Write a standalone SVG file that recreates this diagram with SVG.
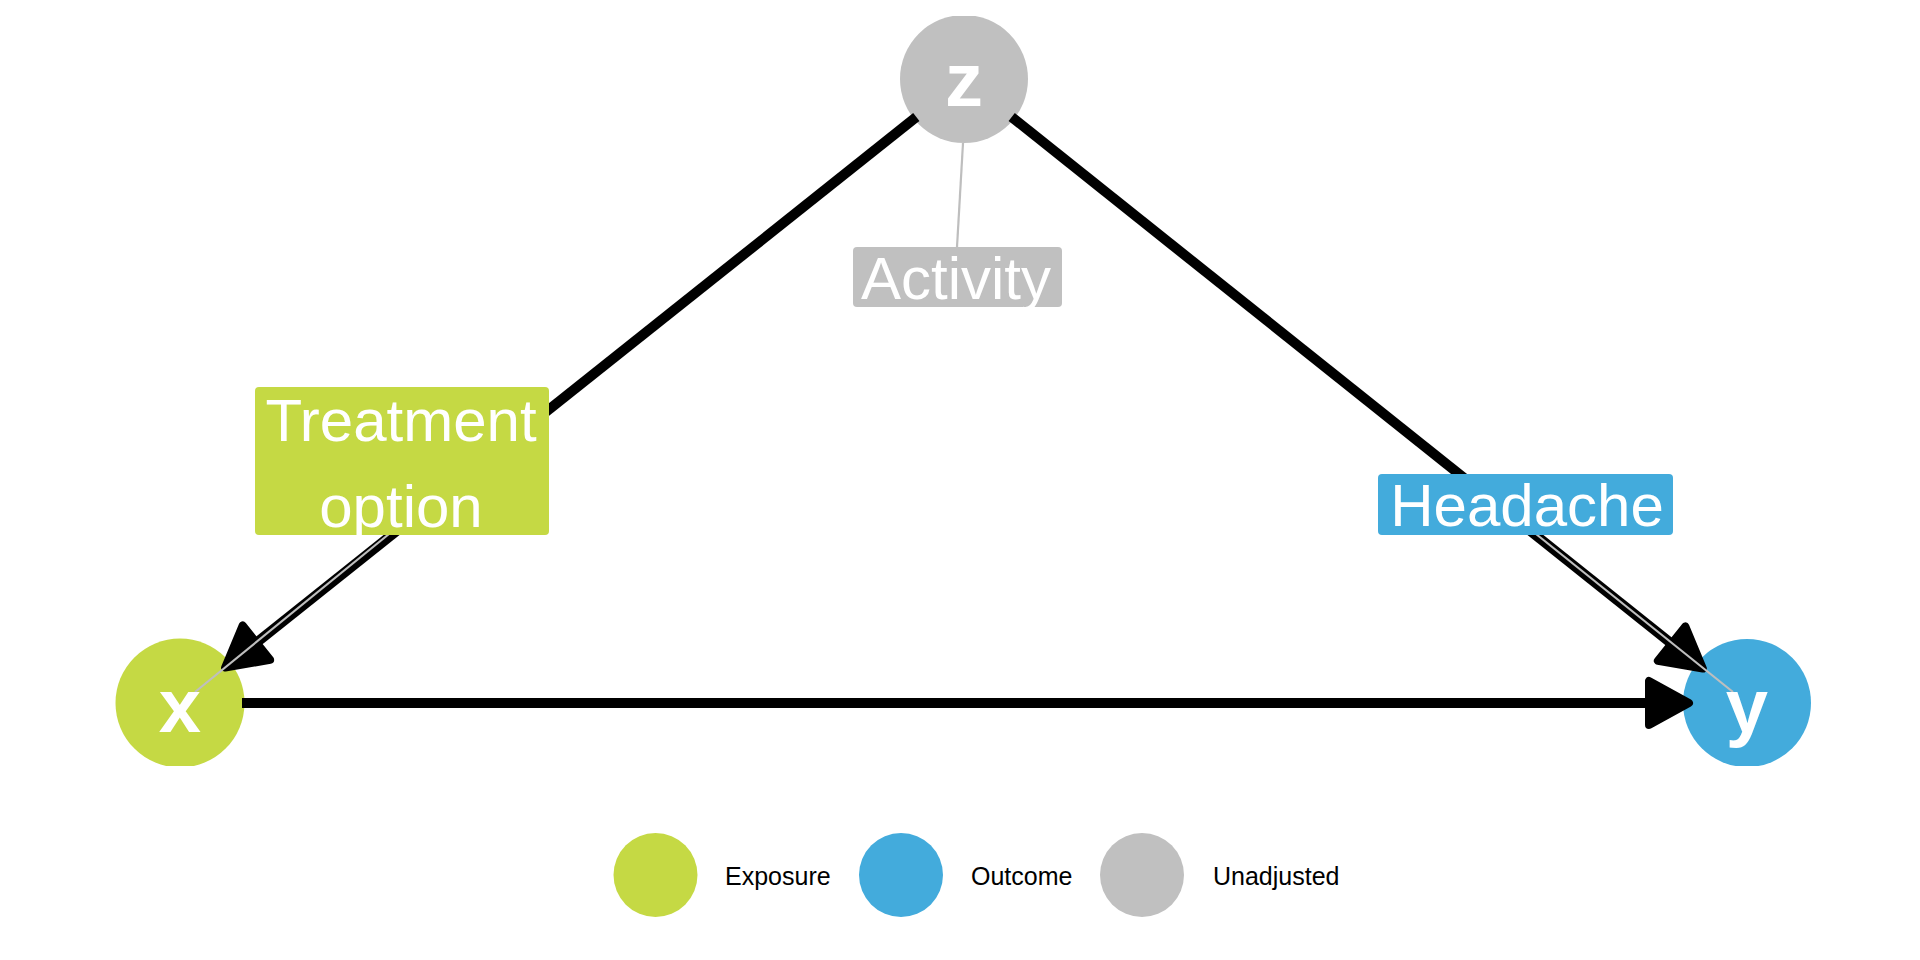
<svg xmlns="http://www.w3.org/2000/svg" xmlns:xlink="http://www.w3.org/1999/xlink" width="1920" height="960" viewBox="0 0 1920 960">
<style>
.node-x{fill:#C5D944}
.node-y{fill:#43ABDC}
.node-z{fill:#C0C0C0}
.ntext{font-family:"Liberation Sans",Arial,sans-serif;font-weight:bold;font-size:76px;fill:#FFFFFF;text-anchor:middle}
.edge{stroke:#000000;stroke-width:10;fill:none;stroke-linecap:butt}
.seg{stroke:#BEBEBE;stroke-width:2.2;fill:none}
.ltext{font-family:"Liberation Sans",Arial,sans-serif;font-size:60px;fill:#FFFFFF;text-anchor:middle}
.legtext{font-family:"Liberation Sans",Arial,sans-serif;font-size:25px;fill:#000000}
</style>
<defs>
<clipPath id="panel"><rect x="0" y="16" width="1920" height="750"/></clipPath>
<path id="ah" d="M-4,0 L-44,-22 L-44,22 Z" fill="#000000" stroke="#000000" stroke-width="8" stroke-linejoin="round"/>
</defs>
<rect width="1920" height="960" fill="#FFFFFF"/>
<g id="nodes" clip-path="url(#panel)">
<g id="node-z"><circle class="node-z" cx="964" cy="79" r="64"/></g>
<g id="node-x"><circle class="node-x" cx="180" cy="703" r="64.5"/></g>
<g id="node-y"><circle class="node-y" cx="1747" cy="703" r="64"/></g>
</g>
<g id="connectors">
<line class="edge" x1="916.3" y1="117" x2="245.5" y2="651.3"/>
<use xlink:href="#ah" transform="translate(222,670) rotate(141.48)"/>
<line class="edge" x1="1011.7" y1="117" x2="1682.5" y2="652.3"/>
<use xlink:href="#ah" transform="translate(1706,671) rotate(38.55)"/>
<line class="edge" x1="242" y1="703" x2="1660" y2="703"/>
<use xlink:href="#ah" transform="translate(1693,703)"/>
</g>
<g id="label-segments">
<line class="seg" x1="963" y1="143" x2="957" y2="247"/>
<line class="seg" x1="389" y1="534" x2="195" y2="692"/>
<line class="seg" x1="1536" y1="534" x2="1733" y2="692"/>
</g>
<g id="node-labels">
<text class="ntext" x="964" y="106">z</text>
<text class="ntext" x="180" y="732">x</text>
<text class="ntext" x="1747" y="732">y</text>
</g>
<g id="label-activity">
<rect x="853" y="247" width="209" height="60" rx="4" fill="#C0C0C0"/>
<text class="ltext" x="956" y="299">Activity</text>
</g>
<g id="label-treatment">
<rect x="255" y="387" width="294" height="148" rx="4" fill="#C5D944"/>
<text class="ltext" x="401" y="441">Treatment</text>
<text class="ltext" x="401" y="527">option</text>
</g>
<g id="label-headache">
<rect x="1378" y="474" width="295" height="61" rx="4" fill="#43ABDC"/>
<text class="ltext" x="1527" y="526">Headache</text>
</g>
<g id="legend">
<g id="legend-exposure"><circle class="node-x" cx="655.5" cy="875" r="42"/><text class="legtext" x="725" y="885">Exposure</text></g>
<g id="legend-outcome"><circle class="node-y" cx="901" cy="875" r="42"/><text class="legtext" x="971" y="885">Outcome</text></g>
<g id="legend-unadjusted"><circle class="node-z" cx="1142" cy="875" r="42"/><text class="legtext" x="1213" y="885">Unadjusted</text></g>
</g>
</svg>
